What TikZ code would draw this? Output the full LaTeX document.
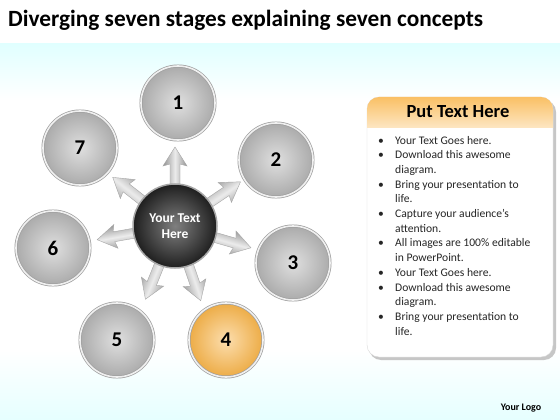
\documentclass[tikz,border=0pt]{standalone}
\usepackage{fontspec}
\setmainfont{Carlito}
\definecolor{txt}{HTML}{262626}
\definecolor{orng}{HTML}{F9B54A}
\begin{document}
\begin{tikzpicture}[x=1pt,y=-1pt,
  sphere/.style={circle, minimum size=74pt, inner sep=0pt, shading=radial,
     inner color=gray!25, outer color=gray!66, draw=gray!75, double=gray!12,
     double distance=1.6pt, line width=0.7pt,
     font=\bfseries\fontsize{21}{24}\selectfont, text=black},
  orangesphere/.style={sphere, inner color=orng!45, outer color=orng!95!black},
  bul/.style={anchor=base west, font=\fontsize{11.6}{13}\selectfont, text=txt, inner sep=0pt},
  arrowshade/.style={top color=gray!85, bottom color=gray!85, middle color=gray!15, draw=gray!70, line width=0.4pt}
]
\useasboundingbox (0,0) rectangle (560,420);
\fill[white] (0,0) rectangle (560,420);
\shade[top color=cyan!12, bottom color=white] (0,44) rectangle (560,100);
\shade[top color=white, bottom color=cyan!10] (0,350) rectangle (560,420);

\node[anchor=base west, inner sep=0pt, font=\bfseries\fontsize{23.3}{26}\selectfont, text=black] (title) at (8,27) {Diverging seven stages explaining seven concepts};

% center position
\coordinate (c) at (175,226);
% arrows
\foreach \a in {90,34,-16,-71,-112,-170,142}{
  \begin{scope}[shift={(c)}, rotate=\a]
    \shade[arrowshade, shading angle=\a]
      (32,-5) -- (62,-5) -- (60,-12) -- (79,0) -- (60,12) -- (62,5) -- (32,5) -- cycle;
  \end{scope}
}

\node[circle, minimum size=84pt, inner sep=0pt, shading=radial, inner color=black!50,
  outer color=black!88, draw=gray!70, line width=1.5pt, text=white, align=center,
  font=\bfseries\fontsize{13.5}{16}\selectfont] (center) at (c) {Your Text\\Here};

\node[sphere] (s1) at (178,103) {1};
\node[sphere] (s2) at (276,160) {2};
\node[sphere] (s3) at (293,263) {3};
\node[orangesphere] (s4) at (226,340) {4};
\node[sphere] (s5) at (117,340) {5};
\node[sphere] (s6) at (53,248) {6};
\node[sphere] (s7) at (80,148) {7};

% panel
\fill[gray!45, rounded corners=12pt] (369,100) rectangle (556,360);
\fill[white, rounded corners=12pt, draw=gray!30] (367,97) rectangle (553,357);
\begin{scope}
  \clip[rounded corners=12pt] (367,97) rectangle (553,357);
  \shade[top color=orng!85, bottom color=orng!35] (367,97) rectangle (553,127);
\end{scope}
\node[font=\bfseries\fontsize{18.5}{20}\selectfont, text=black] (head) at (458,112) {Put Text Here};

\foreach \t [count=\i from 0] in {Your Text Goes here.,Download this awesome,diagram.,Bring your presentation to,life.,Capture your audience’s,attention.,All images are 100\% editable,in PowerPoint.,Your Text Goes here.,Download this awesome,diagram.,Bring your presentation to,life.}{
  \node[bul] (l\i) at (395,144+14.7*\i) {\t};
}
\foreach \i in {0,1,3,5,7,9,10,12}{
  \node[bul] (b\i) at (378,144+14.7*\i) {•};
}

\node[font=\bfseries\fontsize{10}{11}\selectfont, text=black] (logo) at (521,408) {Your Logo};
\end{tikzpicture}
\end{document}
